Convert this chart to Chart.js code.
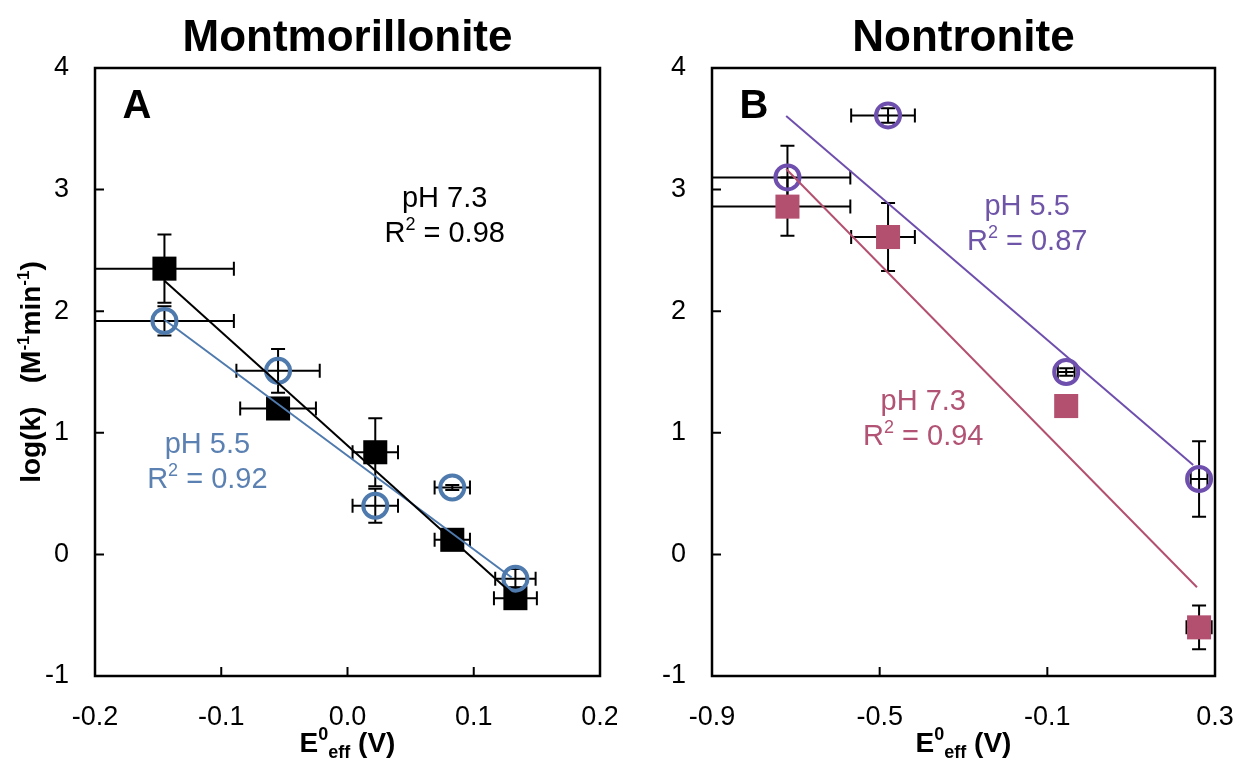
<!DOCTYPE html>
<html><head><meta charset="utf-8">
<script src="https://cdn.jsdelivr.net/npm/chart.js@4/dist/chart.umd.min.js"></script>
<style>
html,body{margin:0;padding:0;background:#fff;width:1235px;height:761px;overflow:hidden}
#c1{position:absolute;left:0;top:0}
#c2{position:absolute;left:617px;top:0}
</style></head><body>
<canvas id="c1" width="617" height="761"></canvas>
<canvas id="c2" width="618" height="761"></canvas>
<script>
// ---------- Panel A : Montmorillonite ----------
const montE      = [-0.145, -0.055, 0.022, 0.083, 0.133];
const mont73     = [2.35, 1.20, 0.84, 0.12, -0.36];
const mont73_yer = [0.28, 0.05, 0.28, 0.05, 0.06];
const mont73_xer = [0.055, 0.030, 0.018, 0.014, 0.017];
const mont55     = [1.92, 1.51, 0.40, 0.55, -0.20];
const mont55_yer = [0.12, 0.18, 0.14, 0.02, 0.08];
const mont55_xer = [0.055, 0.033, 0.018, 0.014, 0.016];
const montFitE   = [-0.145, 0.130];
const montFit73  = [2.25, -0.32];
const montFit55  = [1.93, -0.19];
const montXTicks = [-0.2, -0.1, 0.0, 0.1, 0.2];
const yTicks     = [-1, 0, 1, 2, 3, 4];

// ---------- Panel B : Nontronite ----------
const nontE       = [-0.72, -0.48, -0.055, 0.262];
const nont55      = [3.10, 3.61, 1.50, 0.62];
const nont55_yer  = [0.26, 0.06, 0.03, 0.31];
const nont55_xlo  = [0.22, 0.088, 0.02, 0.02];
const nont55_xhi  = [0.15, 0.064, 0.02, 0.02];
const nont73      = [2.86, 2.61, 1.22, -0.60];
const nont73_yer  = [0.24, 0.28, 0.0, 0.18];
const nont73_xlo  = [0.22, 0.088, 0.0, 0.03];
const nont73_xhi  = [0.15, 0.064, 0.0, 0.03];
const nontFitE55  = [-0.723, 0.248];
const nontFit55   = [3.605, 0.735];
const nontFitE73  = [-0.723, 0.257];
const nontFit73   = [3.17, -0.27];
const nontXTicks  = [-0.9, -0.5, -0.1, 0.3];

const FONT = '"Liberation Sans", Arial, Helvetica, sans-serif';
const C_BLUE = '#4f7aad', C_PURPLE = '#6f4fae', C_MAG = '#b4506f';

function pts(xs, ys) { return xs.map((x, i) => ({x: x, y: ys[i]})); }
function errs(xs, ys, xlo, xhi, yer) {
  return xs.map((x, i) => ({x: x, y: ys[i], xlo: x - xlo[i], xhi: x + xhi[i], ylo: ys[i] - yer[i], yhi: ys[i] + yer[i]}));
}

function drawRich(ctx, segs, cx, base, color) {
  let w = 0;
  segs.forEach(s => { ctx.font = (s.b ? 'bold ' : '') + s.s + 'px ' + FONT; s.w = ctx.measureText(s.t).width; w += s.w; });
  let x = cx - w / 2;
  ctx.fillStyle = color; ctx.textAlign = 'left'; ctx.textBaseline = 'alphabetic';
  segs.forEach(s => { ctx.font = (s.b ? 'bold ' : '') + s.s + 'px ' + FONT; ctx.fillText(s.t, x, base + (s.dy || 0)); x += s.w; });
}

function decorPlugin(opt) {
  return {
    id: 'decor',
    beforeDatasetsDraw(chart) {
      const ctx = chart.ctx, xs = chart.scales.x, ys = chart.scales.y, a = chart.chartArea;
      ctx.save();
      ctx.beginPath(); ctx.rect(a.left, a.top, a.right - a.left, a.bottom - a.top); ctx.clip();
      ctx.strokeStyle = '#000'; ctx.lineWidth = 2;
      const cap = 7;
      opt.errors.forEach(e => {
        const px = xs.getPixelForValue(e.x), py = ys.getPixelForValue(e.y);
        if (e.xhi - e.xlo > 1e-9) {
          const l = xs.getPixelForValue(e.xlo), r = xs.getPixelForValue(e.xhi);
          ctx.beginPath(); ctx.moveTo(l, py); ctx.lineTo(r, py);
          ctx.moveTo(l, py - cap); ctx.lineTo(l, py + cap);
          ctx.moveTo(r, py - cap); ctx.lineTo(r, py + cap); ctx.stroke();
        }
        if (e.yhi - e.ylo > 1e-9) {
          const t = ys.getPixelForValue(e.yhi), b = ys.getPixelForValue(e.ylo);
          ctx.beginPath(); ctx.moveTo(px, t); ctx.lineTo(px, b);
          ctx.moveTo(px - cap, t); ctx.lineTo(px + cap, t);
          ctx.moveTo(px - cap, b); ctx.lineTo(px + cap, b); ctx.stroke();
        }
      });
      ctx.restore();
    },
    afterDraw(chart) {
      const ctx = chart.ctx, xs = chart.scales.x, ys = chart.scales.y, a = chart.chartArea;
      ctx.save();
      ctx.strokeStyle = '#000'; ctx.lineWidth = 2.5;
      ctx.strokeRect(a.left, a.top, a.right - a.left, a.bottom - a.top);
      ctx.lineWidth = 2;
      ctx.beginPath();
      yTicks.slice(1, -1).forEach(v => { const y = ys.getPixelForValue(v); ctx.moveTo(a.left, y); ctx.lineTo(a.left + 9, y); });
      opt.xTicks.slice(1, -1).forEach(v => { const x = xs.getPixelForValue(v); ctx.moveTo(x, a.bottom); ctx.lineTo(x, a.bottom - 9); });
      ctx.stroke();
      // title
      drawRich(ctx, [{t: opt.title, s: 44, b: true}], (a.left + a.right) / 2, 51, '#000');
      // panel letter
      drawRich(ctx, [{t: opt.letter, s: 40, b: true}], a.left + 42, 118, '#000');
      // x axis title
      drawRich(ctx, [{t: 'E', s: 28, b: true}, {t: '0', s: 18, b: true, dy: -12}, {t: 'eff', s: 18, b: true, dy: 6}, {t: ' (V)', s: 28, b: true}],
               (a.left + a.right) / 2, 752, '#000');
      // annotations
      opt.notes.forEach(n => {
        const cx = xs.getPixelForValue(n.x), cy = ys.getPixelForValue(n.y);
        drawRich(ctx, [{t: n.ph, s: 29}], cx, cy + 10, n.c);
        drawRich(ctx, [{t: 'R', s: 29}, {t: '2', s: 18, dy: -12}, {t: ' = ' + n.r2, s: 29}], cx, cy + 45, n.c);
      });
      if (opt.yTitle) {
        ctx.translate(40, (a.top + a.bottom) / 2);
        ctx.rotate(-Math.PI / 2);
        drawRich(ctx, [{t: 'log(k)   (M', s: 28, b: true}, {t: '-1', s: 17, b: true, dy: -11}, {t: 'min', s: 28, b: true}, {t: '-1', s: 17, b: true, dy: -11}, {t: ')', s: 28, b: true}], 0, 0, '#000');
      }
      ctx.restore();
    }
  };
}

function makeChart(id, xmin, xmax, xTicks, rightPad, datasets, opt) {
  const tickFont = {family: FONT, size: 27};
  return new Chart(document.getElementById(id), {
    type: 'scatter',
    data: {datasets: datasets},
    options: {
      responsive: false, animation: false,
      layout: {padding: {top: 68, right: rightPad, left: 0, bottom: 0}},
      plugins: {legend: {display: false}, tooltip: {enabled: false}, title: {display: false}},
      scales: {
        x: {type: 'linear', min: xmin, max: xmax,
            afterBuildTicks: s => { s.ticks = xTicks.map(v => ({value: v})); },
            afterFit: s => { s.height = 85; s.paddingLeft = 0; s.paddingRight = 0; },
            grid: {display: false, drawTicks: false}, border: {display: false},
            ticks: {color: '#000', font: tickFont, padding: 25, maxRotation: 0, autoSkip: false,
                    callback: v => (Math.abs(v) < 1e-9 ? '0.0' : v.toFixed(1))}},
        y: {type: 'linear', min: -1, max: 4,
            afterBuildTicks: s => { s.ticks = yTicks.map(v => ({value: v})); },
            afterFit: s => { s.width = 95; s.paddingTop = 0; s.paddingBottom = 0; },
            grid: {display: false, drawTicks: false}, border: {display: false},
            ticks: {color: '#000', font: tickFont, padding: 26, callback: v => String(v)}}
      }
    },
    plugins: [decorPlugin(opt)]
  });
}

// Panel A
makeChart('c1', -0.2, 0.2, montXTicks, 17, [
  {data: pts(montFitE, montFit73), showLine: true, borderColor: '#000', borderWidth: 2, pointRadius: 0},
  {data: pts(montFitE, montFit55), showLine: true, borderColor: C_BLUE, borderWidth: 2, pointRadius: 0},
  {data: pts(montE, mont55), pointStyle: 'circle', pointRadius: 12, pointBorderWidth: 4, borderColor: C_BLUE, backgroundColor: 'rgba(0,0,0,0)'},
  {data: pts(montE, mont73), pointStyle: 'rect', pointRadius: 17, pointBorderWidth: 0, borderColor: '#000', backgroundColor: '#000'}
], {
  title: 'Montmorillonite', letter: 'A', xTicks: montXTicks, yTitle: true,
  errors: errs(montE, mont73, mont73_xer, mont73_xer, mont73_yer).concat(errs(montE, mont55, mont55_xer, mont55_xer, mont55_yer)),
  notes: [{x: 0.077, y: 2.94, ph: 'pH 7.3', r2: '0.98', c: '#000'},
          {x: -0.111, y: 0.92, ph: 'pH 5.5', r2: '0.92', c: '#5b80b2'}]
});

// Panel B
makeChart('c2', -0.9, 0.3, nontXTicks, 20, [
  {data: pts(nontFitE55, nontFit55), showLine: true, borderColor: C_PURPLE, borderWidth: 2, pointRadius: 0},
  {data: pts(nontFitE73, nontFit73), showLine: true, borderColor: C_MAG, borderWidth: 2, pointRadius: 0},
  {data: pts(nontE, nont55), pointStyle: 'circle', pointRadius: 12, pointBorderWidth: 4, borderColor: C_PURPLE, backgroundColor: 'rgba(0,0,0,0)'},
  {data: pts(nontE, nont73), pointStyle: 'rect', pointRadius: 17, pointBorderWidth: 0, borderColor: C_MAG, backgroundColor: C_MAG}
], {
  title: 'Nontronite', letter: 'B', xTicks: nontXTicks, yTitle: false,
  errors: errs(nontE, nont73, nont73_xlo, nont73_xhi, nont73_yer).concat(errs(nontE, nont55, nont55_xlo, nont55_xhi, nont55_yer)),
  notes: [{x: -0.148, y: 2.87, ph: 'pH 5.5', r2: '0.87', c: '#6f55a8'},
          {x: -0.396, y: 1.27, ph: 'pH 7.3', r2: '0.94', c: '#b25274'}]
});
</script>
</body></html>
